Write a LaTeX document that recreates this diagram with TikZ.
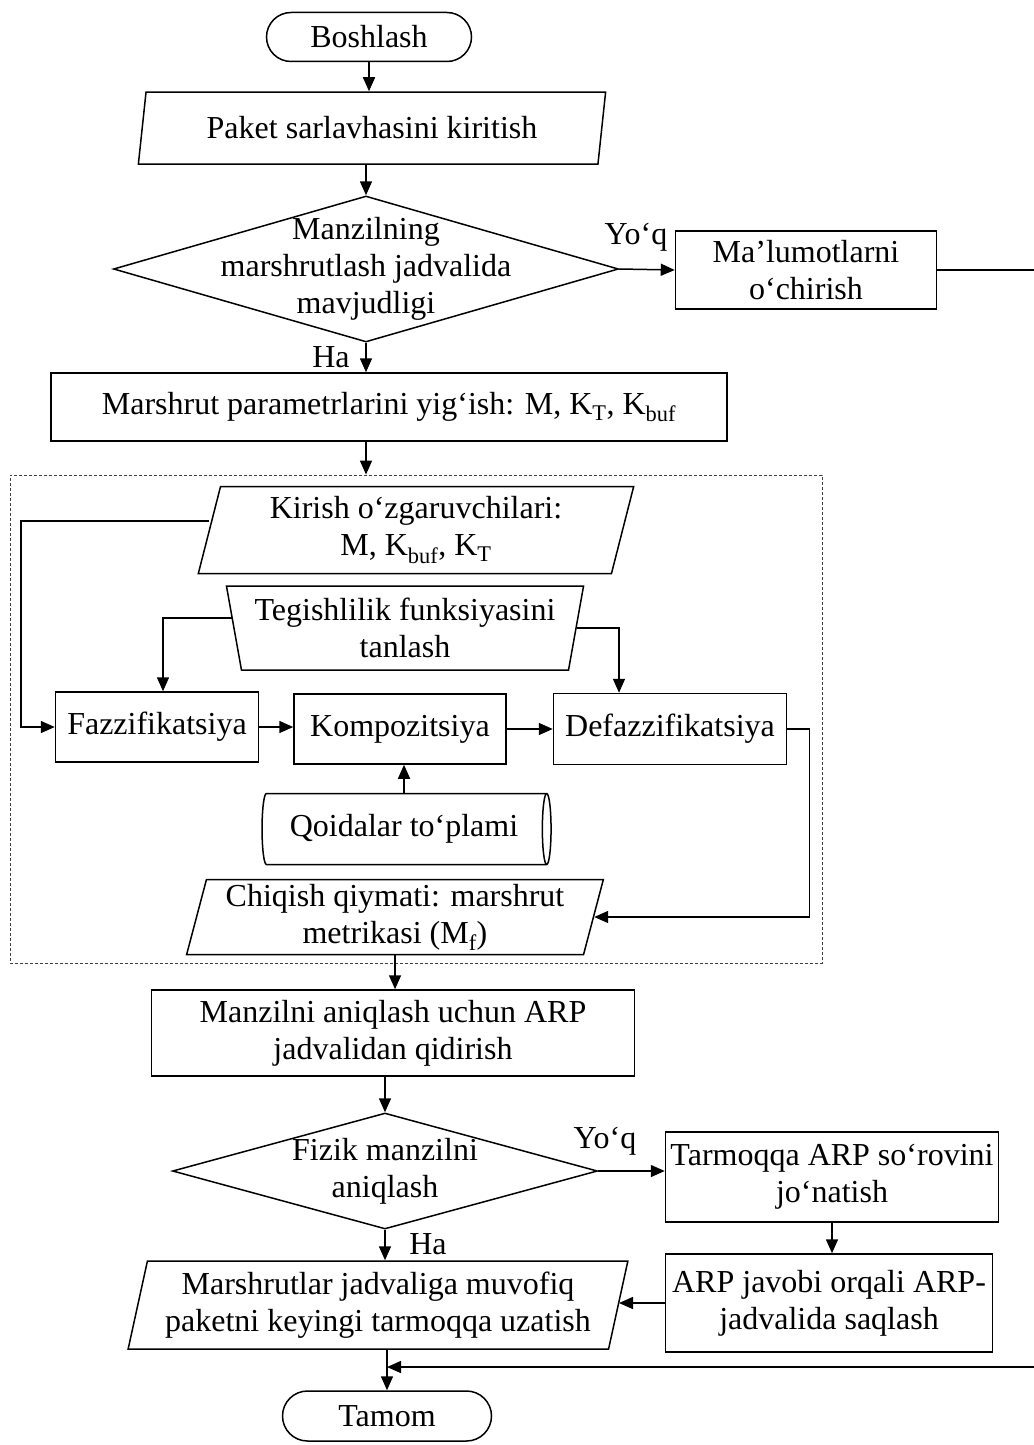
\documentclass[tikz,border=0pt]{standalone}
\usepackage{fontspec}
\setmainfont{Liberation Serif}
\usetikzlibrary{shapes.geometric,shapes.misc,arrows.meta}
\newcommand{\flowfont}{\fontsize{32}{37}\selectfont}
\tikzset{
  base/.style={draw, line width=1.5pt, align=center, inner sep=0pt, font=\flowfont},
  proc/.style={base, rectangle},
  term/.style={base, rounded rectangle},
  io/.style={base, trapezium, trapezium stretches=true,
             trapezium left angle=#1, trapezium right angle=180-#1},
  io/.default=76,
  manual/.style={base, trapezium, trapezium stretches=true,
             trapezium left angle=77, trapezium right angle=77, shape border rotate=180},
  dec/.style={base, diamond},
  store/.style={base, cylinder, aspect=0.3},
  lbl/.style={font=\flowfont, inner sep=0pt},
  arr/.style={line width=1.5pt, -{Triangle[length=14pt,width=12pt]}},
  group/.style={draw=black!75, line width=0.8pt, dash pattern=on 3pt off 2pt,
                rectangle, inner sep=0pt}
}
\begin{document}
\begin{tikzpicture}[x=1pt, y=-1pt]
\useasboundingbox (0,0) rectangle (1033,1445);

% fuzzy-logic block frame
\node[group, minimum width=812, minimum height=488] (fz) at (416,719) {};

% main chain
\node[term, minimum width=205, minimum height=49] (bos) at (369,37) {Boshlash};
\node[io, minimum width=469, minimum height=72] (pak) at (372,128) {Paket sarlavhasini kiritish};
\node[dec, minimum width=505, minimum height=146,
      label={[lbl, align=center]center:Manzilning\\marshrutlash jadvalida\\mavjudligi}] (d1) at (366,269) {};
\node[proc, minimum width=261, minimum height=78] (mal) at (806,270) {Ma’lumotlarni\\o‘chirish};
\node[proc, minimum width=676, minimum height=68] (par) at (389,407)
  {Marshrut parametrlarini yig‘ish: M, K\textsubscript{T}, K\textsubscript{buf}};

% fuzzy block
\node[io, minimum width=436, minimum height=87] (kir) at (416,530)
  {Kirish o‘zgaruvchilari:\\M, K\textsubscript{buf}, K\textsubscript{T}};
\node[manual, minimum width=358, minimum height=84] (teg) at (405,628)
  {Tegishlilik funksiyasini\\tanlash};
\node[proc, minimum width=203, minimum height=70] (faz) at (157,727) {Fazzifikatsiya};
\node[proc, minimum width=212, minimum height=70] (kom) at (400,729) {Kompozitsiya};
\node[proc, minimum width=233, minimum height=71] (def) at (670,729) {Defazzifikatsiya};
\node[store, minimum width=71, minimum height=289] (cyl) at (404,829) {Qoidalar to‘plami};
\node[io=75, minimum width=417, minimum height=75] (chq) at (395,917)
  {Chiqish qiymati: marshrut\\metrikasi (M\textsubscript{f})};

% lower part
\node[proc, minimum width=483, minimum height=86] (man) at (393,1033)
  {Manzilni aniqlash uchun ARP\\jadvalidan qidirish};
\node[dec, minimum width=425, minimum height=116,
      label={[lbl, align=center]center:Fizik manzilni\\aniqlash}] (d2) at (385,1171) {};
\node[proc, minimum width=333, minimum height=90] (tar) at (832,1177)
  {Tarmoqqa ARP so‘rovini\\jo‘natish};
\node[proc, minimum width=327, minimum height=98] (arp) at (829,1303)
  {ARP javobi orqali ARP-\\jadvalida saqlash};
\node[io=75, minimum width=500, minimum height=88] (mar) at (378,1305)
  {Marshrutlar jadvaliga muvofiq\\paketni keyingi tarmoqqa uzatish};
\node[term, minimum width=209, minimum height=50] (tam) at (387,1416) {Tamom};
\coordinate (join) at (387,1367);

% branch labels
\node[lbl] (yoq1) at (636,237) {Yo‘q};
\node[lbl] (ha1) at (331,357) {Ha};
\node[lbl] (yoq2) at (605,1141) {Yo‘q};
\node[lbl] (ha2) at (428,1244) {Ha};

% connectors
\draw[arr] (bos.south) -- (bos.south |- pak.north);
\draw[arr] (d1.north |- pak.south) -- (d1.north);
\draw[arr] (d1.east) -- (mal.west);
\draw[arr] (d1.south) -- (d1.south |- par.north);
\draw[arr] (d1.south |- par.south) -- (d1.south |- fz.north);

\draw[arr] ([yshift=9pt]kir.west) -| ([xshift=-34pt]faz.west) -- (faz.west);
\draw[arr] ([yshift=10pt]teg.west) -| ([xshift=6pt]faz.north);
\draw[arr] (teg.east) -| ([xshift=-51pt]def.north);
\draw[arr] (faz.east) -- (faz.east -| kom.west);
\draw[arr] (kom.east) -- (kom.east -| def.west);
\draw[arr] (cyl.north) -- (cyl.north |- kom.south);
\draw[arr] (def.east) -- ++(22,0) |- (chq.east);

\draw[arr] (chq.south) -- (chq.south |- man.north);
\draw[arr] (d2.north |- man.south) -- (d2.north);
\draw[arr] (d2.east) -- (d2.east -| tar.west);
\draw[arr] (d2.south) -- (d2.south |- mar.north);
\draw[arr] (tar.south) -- (tar.south |- arp.north);
\draw[arr] (arp.west) -- (arp.west -| mar.east);
\draw[arr] (tam.north |- mar.south) -- (tam.north);
\draw[arr] (mal.east) -- ++(110,0) |- (join);
\end{tikzpicture}
\end{document}
